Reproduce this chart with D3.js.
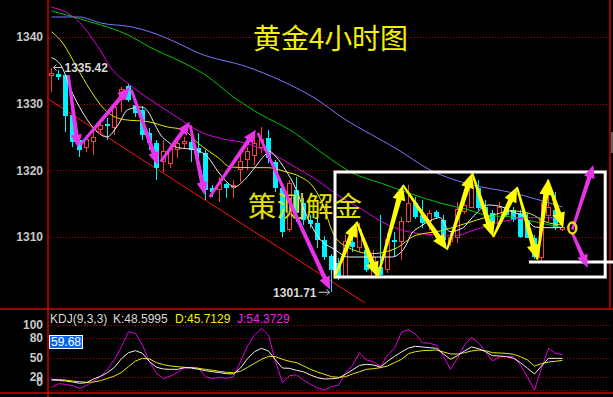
<!DOCTYPE html>
<html>
<head>
<meta charset="utf-8">
<script src="https://cdn.jsdelivr.net/npm/d3@7/dist/d3.min.js"></script>
<style>
    body { margin: 0; background: #000; }
    svg { display: block; }
</style>
</head>
<body>
<svg id="chart" width="613" height="397"></svg>
<script>
// 4h candles: [open, high, low, close]
const candles = [
    [1334.2, 1335.42, 1331.8, 1334.5], [1334.5, 1335.1, 1333.6, 1334.0], [1334.3, 1334.5, 1325.8, 1328.2],
    [1328.3, 1328.6, 1323.5, 1324.3], [1324.6, 1324.9, 1322.0, 1323.1], [1323.4, 1325.3, 1322.8, 1324.6],
    [1324.3, 1326.5, 1322.3, 1325.0], [1326.1, 1327.6, 1325.6, 1326.8], [1327.0, 1327.9, 1324.6, 1326.7],
    [1326.5, 1329.8, 1325.3, 1329.4], [1330.6, 1332.5, 1328.8, 1332.1], [1332.7, 1333.0, 1330.3, 1330.6],
    [1329.8, 1330.1, 1328.0, 1328.6], [1329.1, 1329.7, 1324.6, 1325.3], [1325.6, 1326.4, 1323.1, 1324.1],
    [1324.1, 1324.6, 1318.6, 1320.4], [1321.3, 1324.6, 1319.8, 1322.8], [1321.1, 1323.8, 1320.4, 1323.1],
    [1323.1, 1324.9, 1321.9, 1324.1], [1324.0, 1325.0, 1323.4, 1324.4], [1324.3, 1326.5, 1321.3, 1323.1],
    [1323.4, 1325.6, 1321.9, 1322.6], [1322.6, 1323.1, 1315.6, 1317.1], [1317.4, 1317.8, 1316.0, 1316.8],
    [1317.1, 1319.0, 1315.3, 1318.1], [1318.0, 1318.1, 1315.9, 1317.4], [1317.4, 1318.6, 1315.9, 1317.8],
    [1320.1, 1322.3, 1318.3, 1321.3], [1321.6, 1323.5, 1320.1, 1322.8], [1322.3, 1325.3, 1320.8, 1324.1],
    [1323.4, 1326.5, 1322.6, 1324.6], [1324.9, 1326.1, 1321.1, 1321.9], [1321.3, 1321.6, 1316.8, 1317.4],
    [1317.4, 1317.8, 1310.0, 1310.8], [1311.1, 1318.6, 1310.8, 1318.1], [1317.1, 1319.0, 1312.3, 1313.6],
    [1315.1, 1315.9, 1311.8, 1312.6], [1312.6, 1313.3, 1311.4, 1312.0], [1312.1, 1313.3, 1308.4, 1309.6],
    [1309.6, 1310.2, 1306.6, 1307.0], [1307.2, 1307.5, 1301.71, 1305.0], [1306.1, 1306.9, 1303.6, 1304.0],
    [1304.0, 1310.3, 1303.9, 1309.3], [1309.3, 1310.6, 1307.8, 1308.5], [1308.4, 1312.1, 1307.8, 1311.1],
    [1308.1, 1309.1, 1304.8, 1305.1], [1304.0, 1308.1, 1303.7, 1307.0], [1305.5, 1313.3, 1304.0, 1304.3],
    [1305.1, 1310.6, 1304.6, 1309.6], [1309.6, 1310.8, 1307.0, 1309.3], [1309.3, 1313.0, 1306.6, 1312.3],
    [1312.3, 1317.8, 1312.1, 1315.1], [1315.1, 1316.0, 1312.7, 1313.0], [1313.3, 1315.6, 1311.4, 1312.1],
    [1312.3, 1314.1, 1311.1, 1313.6], [1313.8, 1314.1, 1312.7, 1313.0], [1312.6, 1313.3, 1308.8, 1309.6],
    [1309.3, 1310.6, 1308.7, 1310.0], [1309.9, 1315.3, 1309.1, 1314.1], [1313.8, 1315.3, 1313.5, 1314.8],
    [1314.5, 1318.6, 1314.4, 1317.4], [1317.4, 1318.6, 1314.1, 1314.4], [1314.5, 1315.6, 1312.9, 1313.6],
    [1313.6, 1314.1, 1311.8, 1312.1], [1312.1, 1315.3, 1311.5, 1314.5], [1314.5, 1315.0, 1313.0, 1313.3],
    [1314.1, 1314.5, 1312.3, 1312.6], [1313.6, 1314.1, 1309.9, 1310.0], [1312.6, 1313.6, 1309.9, 1309.9],
    [1309.9, 1310.3, 1306.7, 1307.0], [1306.9, 1315.3, 1306.1, 1312.6], [1313.3, 1317.4, 1312.3, 1314.4],
    [1314.1, 1316.8, 1311.1, 1311.5], [1311.1, 1311.7, 1310.9, 1311.5]
];

// moving averages, [candle index, price]
const maWhite = [
    [0, 1336.9], [1.5, 1335.5], [2.6, 1332.5], [4.5, 1328.6], [6.5, 1325.8], [7.9, 1325.0], [9.5, 1326.8],
    [10.9, 1329.1], [12.8, 1329.5], [13.8, 1328.8], [14.8, 1326.8], [15.6, 1325.3], [16.6, 1324.3],
    [18.1, 1323.4], [20.5, 1323.1], [22.4, 1321.9], [23.8, 1319.8], [25.2, 1318.1], [26.1, 1317.5],
    [27.6, 1318.6], [29.1, 1320.5], [30.5, 1322.3], [31.2, 1322.8], [32.1, 1322.0], [33.4, 1320.1],
    [34.8, 1317.5], [36.2, 1313.8], [38.1, 1310.0], [40.5, 1308.1], [42.4, 1307.0], [45.8, 1307.0],
    [48.6, 1307.0], [50.5, 1308.5], [51.5, 1310.6], [52.6, 1311.5], [54.4, 1312.6], [55.5, 1312.9],
    [56.9, 1310.8], [58.8, 1311.4], [60.1, 1312.9], [62.4, 1314.8], [64.4, 1314.5], [65.8, 1313.8],
    [67.6, 1313.0], [69.1, 1311.5], [70.5, 1311.4], [73, 1311.4]
];
const maYellow = [
    [0, 1340.8], [1.6, 1339.1], [3.6, 1335.5], [5.5, 1332.1], [7.9, 1328.8], [10.4, 1327.6], [13.8, 1327.3],
    [16.6, 1326.5], [18.8, 1326.1], [20.9, 1324.1], [23.8, 1321.9], [25.6, 1320.5], [28.4, 1320.4],
    [30.9, 1320.4], [33.4, 1319.8], [35.6, 1319.0], [37.4, 1317.5], [38.8, 1314.8], [40.2, 1310.6],
    [41.9, 1308.7], [45.8, 1307.5], [49.4, 1308.4], [51.9, 1310.2], [55.5, 1310.9], [59.4, 1312.1],
    [62.2, 1313.0], [65.9, 1313.9], [68.4, 1313.5], [70.5, 1312.3], [73, 1311.8]
];
const maMagenta = [
    [0, 1344.5], [3.6, 1342.6], [6.9, 1338.1], [8.4, 1335.5], [11.2, 1332.8], [14.1, 1330.6], [17.9, 1328.0],
    [21.2, 1325.8], [23.7, 1324.9], [27.6, 1324.1], [30.9, 1322.8], [34.8, 1320.5], [37.4, 1318.9],
    [40.9, 1316.3], [44.4, 1314.1], [48.1, 1311.8], [51.9, 1310.6], [55.5, 1310.3], [57.6, 1310.2],
    [60.5, 1311.1], [64.4, 1312.3], [68.4, 1312.9], [73, 1312.9]
];
const maGreen = [
    [0, 1343.9], [4.5, 1342.6], [11.5, 1340.0], [14, 1338.5], [18.5, 1336.3], [22, 1334.3], [26, 1331.0],
    [30, 1328.3], [34, 1326.1], [37.5, 1323.5], [40, 1321.6], [43, 1319.6], [47, 1318.1], [51, 1316.6],
    [55.5, 1315.1], [59.5, 1314.1], [62, 1313.3], [66.5, 1312.9], [69, 1312.3], [73, 1311.4]
];
const maBlue = [
    [0, 1343.0], [4, 1343.0], [7, 1342.1], [11.5, 1341.5], [14, 1340.8], [18, 1339.1], [21, 1337.6],
    [28, 1335.5], [32.5, 1333.6], [37.5, 1330.9], [42, 1327.6], [47, 1324.6], [49.5, 1323.1], [54, 1320.1],
    [59, 1318.1], [66, 1316.6], [73, 1314.5]
];

// KDJ(9,3,3), one value per candle
const kValues = [
    15.4, 14.9, 13.8, 12.3, 10.3, 11.3, 16.9, 21, 26.7, 34.9, 48.2, 57.4, 60.5, 56.4, 43.6, 34.9, 32.3, 31.8,
    31.8, 34.4, 33.8, 31.8, 29.7, 28.2, 26.7, 25.1, 24.6, 33.8, 48.2, 59, 64.1, 60, 46.2, 33.8, 33.3, 30.3,
    28, 23.1, 19, 16.9, 17.4, 18.5, 24.1, 30.8, 37.9, 39.5, 38.5, 35.4, 44.1, 51.8, 58.5, 64.6, 67.2, 66.2,
    65.1, 64.1, 55.4, 47.2, 52.8, 60, 66.2, 63.6, 59, 52.8, 52.3, 51.3, 48.7, 42.1, 33.3, 24.6, 36.9, 48.7,
    48.7, 48.6
];
const dValues = [
    16.4, 15.9, 15.4, 13.8, 12.8, 11.8, 12.3, 14.4, 17.9, 21.5, 27.2, 35.9, 44.6, 48.7, 47.7, 42.1, 39, 36.9,
    35.9, 34.9, 34.4, 33.3, 31.8, 30.3, 28.7, 27.2, 26.7, 28.7, 34.9, 41, 47.2, 51.8, 51.3, 47.2, 44.1, 42.1,
    37, 31.8, 27.7, 24.1, 20.5, 19.5, 20.5, 24.6, 28.2, 31.8, 32.8, 34.4, 36.9, 42.1, 47.2, 55.9, 59, 60.5,
    61, 61.5, 58.5, 55.4, 55.4, 57.4, 60, 61.5, 60.5, 57.4, 56.9, 56.4, 54.9, 51.3, 46.2, 36.9, 40.5, 43.1,
    44.1, 45.7
];
const jValues = [
    4.1, 9.7, 8.7, 6.7, 2.6, 7.2, 13.3, 21, 31.8, 47.2, 66.7, 89.7, 87.2, 69.2, 43.6, 25.6, 17.4, 21.5,
    27.2, 33.8, 34.9, 33.8, 20.5, 17.4, 20, 17.9, 20.5, 43.6, 67.7, 84.6, 94.9, 84.6, 43.6, 11.3, 22, 23.1,
    15.4, 8.7, 3.1, 0, 5.1, 7.7, 26.7, 37.4, 57.4, 46.2, 43.6, 35.9, 53.8, 64.1, 89.2, 92.8, 85.6, 72.8,
    71.8, 69.2, 51.3, 31.8, 48.7, 69.2, 81, 72.8, 59, 44.6, 50.8, 51.8, 51.3, 38.5, 19.5, 0, 33.3, 64.1,
    56.4, 54.4
];

const priceTicks = [1310, 1320, 1330, 1340];
const kdjTicks = [100, 80, 50, 20, 0];

// hand drawn markup, [candle index, price]
const magentaArrows = [
    [[2.4, 1334.3], [3.8, 1323.4]], [[4.1, 1323.8], [11.2, 1332.5]], [[11.4, 1332.1], [15.2, 1320.8]],
    [[15.6, 1321.3], [19.8, 1327.3]], [[19.8, 1326.8], [21.9, 1316.3]], [[22.6, 1316.0], [29.2, 1326.1]],
    [[29.5, 1325.6], [39.8, 1302.1]], [[74.4, 1311.1], [77.4, 1320.8]], [[74.4, 1310.6], [76.6, 1305.4]]
];
const yellowZigzag = [
    [40.5, 1304.0], [43.6, 1312.3], [46.6, 1304.0], [50.2, 1317.8], [56.5, 1308.1], [60.1, 1319.6],
    [63.1, 1310.0], [66.5, 1317.5], [69.4, 1306.6], [70.9, 1318.6], [73.1, 1311.4]
];
const rangeBox = [[40.5, 1319.75], [79.1, 1304.0]];
const supportLine = [[68.2, 1306.25], [80.3, 1306.25]];
const trendLine = [[-0.5, 1330.7], [44.8, 1300.1]];
const targetMark = [74.4, 1311.35];

const svg = d3.select('#chart');
const W = 613;
const axisX = 48;
const rightX = 610;
const mainBottom = 309;

const x = d3.scaleLinear().domain([0, 80]).range([51.5, 611.5]);
const y = d3.scaleLinear().domain([1310, 1340]).range([237, 37]);
const yK = d3.scaleLinear().domain([0, 100]).range([390, 325]);

svg.append('rect').attr('width', W).attr('height', 397).attr('fill', '#000');

const defs = svg.append('defs');
defs.append('clipPath').attr('id', 'clipMain')
    .append('rect').attr('x', axisX + 1).attr('y', 0).attr('width', rightX - axisX - 1).attr('height', mainBottom);
defs.append('clipPath').attr('id', 'clipKdj')
    .append('rect').attr('x', axisX + 1).attr('y', mainBottom + 1).attr('width', rightX - axisX - 1).attr('height', 83);

/**
 * GRID AND AXES
 * */
const addGrid = (ticks, scale) => {
    svg.append('g').selectAll('line').data(ticks).join('line')
        .attr('x1', axisX).attr('x2', rightX)
        .attr('y1', d => Math.round(scale(d)) + 0.5).attr('y2', d => Math.round(scale(d)) + 0.5)
        .attr('stroke', '#b40000')
        .attr('stroke-dasharray', '1,2');
};
addGrid(priceTicks, y);
addGrid(kdjTicks, yK);

const styleAxis = (g) => {
    g.select('.domain').remove();
    g.selectAll('text')
        .attr('fill', '#c8c8c8')
        .attr('font-family', 'Liberation Sans, Arial, sans-serif')
        .attr('font-weight', 'bold')
        .attr('font-size', 12);
};

svg.append('g')
    .attr('transform', `translate(${axisX},0)`)
    .call(d3.axisLeft(y).tickValues(priceTicks).tickFormat(d3.format('d')).tickSize(0).tickPadding(5))
    .call(styleAxis);

const kdjAxis = svg.append('g')
    .attr('transform', `translate(${axisX},0)`)
    .call(d3.axisLeft(yK).tickValues(kdjTicks).tickFormat(d3.format('d')).tickSize(0).tickPadding(5))
    .call(styleAxis);
// the 0 label sits just under the 20 label, as in the terminal
kdjAxis.selectAll('.tick').filter(d => d === 0).select('text').attr('y', -8);

// frame lines
const frame = svg.append('g').attr('stroke', '#d00000').attr('stroke-width', 1.5);
frame.append('line').attr('x1', axisX).attr('x2', axisX).attr('y1', 0).attr('y2', 397);
frame.append('line').attr('x1', rightX).attr('x2', rightX).attr('y1', 0).attr('y2', mainBottom);
frame.append('line').attr('x1', 0).attr('x2', W).attr('y1', mainBottom).attr('y2', mainBottom);
frame.append('line').attr('x1', 0).attr('x2', W).attr('y1', 393).attr('y2', 393);
svg.append('rect').attr('x', rightX + 1).attr('y', 132).attr('width', 2).attr('height', 21).attr('fill', '#666');

/**
 * PRICE PANE
 * */
const main = svg.append('g').attr('clip-path', 'url(#clipMain)');

main.append('line')
    .attr('x1', x(trendLine[0][0])).attr('y1', y(trendLine[0][1]))
    .attr('x2', x(trendLine[1][0])).attr('y2', y(trendLine[1][1]))
    .attr('stroke', '#ff1010')
    .attr('stroke-width', 1);

const addCandles = (container) => {
    const g = container.append('g').attr('shape-rendering', 'crispEdges');
    candles.forEach((c, i) => {
        const [o, h, l, cl] = c;
        const cx = x(i);
        const up = cl >= o;
        const color = up ? '#ff3c3c' : '#00f0ff';
        const top = y(Math.max(o, cl));
        const bot = y(Math.min(o, cl));
        g.append('line')
            .attr('x1', cx).attr('x2', cx)
            .attr('y1', y(h)).attr('y2', top)
            .attr('stroke', color);
        g.append('line')
            .attr('x1', cx).attr('x2', cx)
            .attr('y1', bot).attr('y2', y(l))
            .attr('stroke', color);
        if (up) {
            g.append('rect')
                .attr('x', cx - 2).attr('y', top)
                .attr('width', 4).attr('height', Math.max(bot - top, 1))
                .attr('fill', '#000').attr('stroke', color);
        } else {
            g.append('rect')
                .attr('x', cx - 2.5).attr('y', top)
                .attr('width', 5).attr('height', Math.max(bot - top, 1))
                .attr('fill', color);
        }
    });
};
addCandles(main);

const maLine = d3.line()
    .x(d => x(d[0]))
    .y(d => y(d[1]))
    .curve(d3.curveMonotoneX);

[
    [maBlue, '#7878ff'],
    [maGreen, '#00c800'],
    [maMagenta, '#e000e0'],
    [maYellow, '#e8e800'],
    [maWhite, '#f0f0f0']
].forEach(([data, color]) => {
    main.append('path')
        .attr('d', maLine(data))
        .attr('fill', 'none')
        .attr('stroke', color)
        .attr('stroke-width', 1);
});

// high / low labels
const labelFont = 'Liberation Sans, Arial, sans-serif';
const hiY = y(candles[0][1]);
main.append('path')
    .attr('d', `M${x(0) + 11},${hiY}H${x(0) + 2}M${x(0) + 5},${hiY - 3}L${x(0) + 2},${hiY}L${x(0) + 5},${hiY + 3}`)
    .attr('stroke', '#d0d0d0').attr('fill', 'none');
main.append('text')
    .attr('x', x(0) + 13).attr('y', hiY + 4.5)
    .attr('fill', '#d8d8d8')
    .attr('font-family', labelFont).attr('font-weight', 'bold').attr('font-size', 12)
    .text('1335.42');

const lowX = x(40) - 2;
const lowY = y(candles[40][2]);
main.append('path')
    .attr('d', `M${lowX - 11},${lowY}H${lowX}M${lowX - 3},${lowY - 3}L${lowX},${lowY}L${lowX - 3},${lowY + 3}`)
    .attr('stroke', '#d0d0d0').attr('fill', 'none');
main.append('text')
    .attr('x', lowX - 13).attr('y', lowY + 4.5)
    .attr('text-anchor', 'end')
    .attr('fill', '#d8d8d8')
    .attr('font-family', labelFont).attr('font-weight', 'bold').attr('font-size', 12)
    .text('1301.71');

/**
 * MARKUP
 * */
const arrowShape = (a, b, w0, w1, headLen, headW) => {
    const p0 = [x(a[0]), y(a[1])];
    const p1 = [x(b[0]), y(b[1])];
    const len = Math.hypot(p1[0] - p0[0], p1[1] - p0[1]);
    const ux = (p1[0] - p0[0]) / len;
    const uy = (p1[1] - p0[1]) / len;
    const nx = -uy;
    const ny = ux;
    const bx = p1[0] - ux * headLen;
    const by = p1[1] - uy * headLen;
    return [
        [p0[0] + nx * w0, p0[1] + ny * w0],
        [bx + nx * w1, by + ny * w1],
        [bx + nx * headW, by + ny * headW],
        p1,
        [bx - nx * headW, by - ny * headW],
        [bx - nx * w1, by - ny * w1],
        [p0[0] - nx * w0, p0[1] - ny * w0]
    ];
};

const markup = svg.append('g');

markup.append('rect')
    .attr('x', x(rangeBox[0][0])).attr('y', y(rangeBox[0][1]))
    .attr('width', x(rangeBox[1][0]) - x(rangeBox[0][0]))
    .attr('height', y(rangeBox[1][1]) - y(rangeBox[0][1]))
    .attr('fill', 'none').attr('stroke', '#fff').attr('stroke-width', 3);

markup.append('line')
    .attr('x1', x(supportLine[0][0])).attr('x2', x(supportLine[1][0]))
    .attr('y1', y(supportLine[0][1])).attr('y2', y(supportLine[1][1]))
    .attr('stroke', '#fff').attr('stroke-width', 3);

markup.append('text')
    .attr('x', 248).attr('y', 217)
    .attr('fill', '#e0e000')
    .attr('font-family', 'Noto Sans CJK SC, sans-serif')
    .attr('font-size', 28)
    .attr('textLength', 114)
    .text('策测解金');

magentaArrows.forEach(([a, b]) => {
    markup.append('polygon')
        .attr('points', arrowShape(a, b, 1.4, 2.2, 13, 5.5).join(' '))
        .attr('fill', '#e833e8');
});

d3.pairs(yellowZigzag).forEach(([a, b]) => {
    markup.append('polygon')
        .attr('points', arrowShape(a, b, 1, 2.6, 15, 6.5).join(' '))
        .attr('fill', '#ffff00');
});

markup.append('ellipse')
    .attr('cx', x(targetMark[0])).attr('cy', y(targetMark[1]))
    .attr('rx', 4).attr('ry', 5.5)
    .attr('fill', 'none').attr('stroke', '#f0e000').attr('stroke-width', 2.5);

svg.append('text')
    .attr('x', 253).attr('y', 49)
    .attr('fill', '#f2f200')
    .attr('font-family', 'Noto Sans CJK SC, sans-serif')
    .attr('font-size', 28)
    .attr('textLength', 155)
    .text('黄金4小时图');

/**
 * KDJ PANE
 * */
const kdj = svg.append('g').attr('clip-path', 'url(#clipKdj)');
const kdjLine = d3.line()
    .x((d, i) => x(i))
    .y(d => yK(d));

[
    [jValues, '#e000e0'],
    [dValues, '#e8e800'],
    [kValues, '#f0f0f0']
].forEach(([data, color]) => {
    kdj.append('path')
        .attr('d', kdjLine(data))
        .attr('fill', 'none')
        .attr('stroke', color)
        .attr('stroke-width', 1);
});

const header = svg.append('g')
    .attr('font-family', labelFont)
    .attr('font-size', 12);
[
    ['KDJ(9,3,3)', 50, '#d8d8d8'],
    ['K:48.5995', 113, '#d8d8d8'],
    ['D:45.7129', 175, '#f0f000'],
    ['J:54.3729', 237, '#f020f0']
].forEach(([label, px, color]) => {
    header.append('text').attr('x', px).attr('y', 323).attr('fill', color).text(label);
});

svg.append('rect')
    .attr('x', 49.5).attr('y', 335.5).attr('width', 33).attr('height', 13)
    .attr('fill', '#0a64e6').attr('stroke', '#fff');
svg.append('text')
    .attr('x', 51).attr('y', 346)
    .attr('fill', '#fff')
    .attr('font-family', labelFont)
    .attr('font-size', 12)
    .text('59.68');
</script>
</body>
</html>
